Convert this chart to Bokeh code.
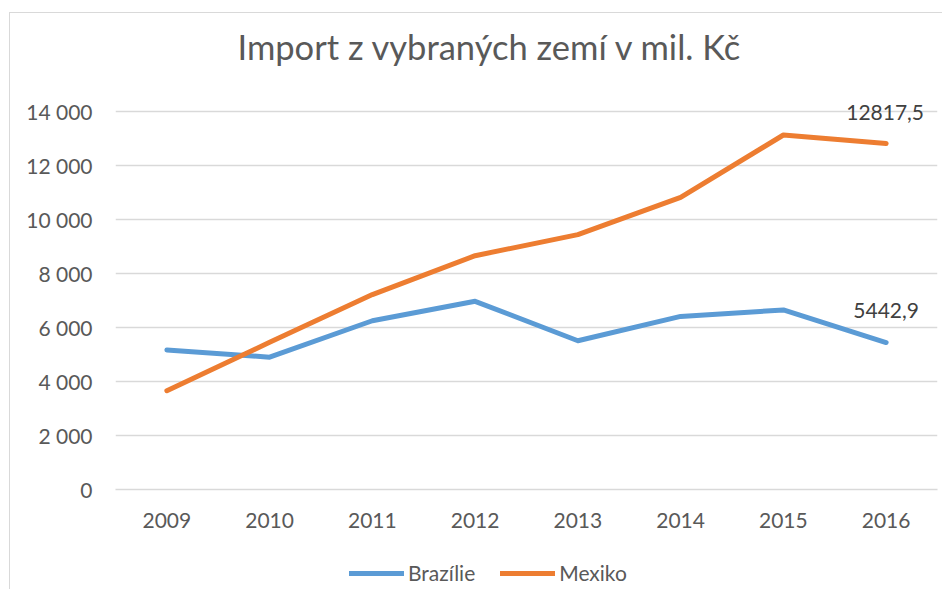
from bokeh.plotting import figure
from bokeh.layouts import column
from bokeh.models import FactorRange, Range1d, CustomJSTickFormatter, Legend, LegendItem, ColumnDataSource
from bokeh.core.properties import value
from bokeh.embed import file_html
from bokeh.resources import INLINE

years = ["2009", "2010", "2011", "2012", "2013", "2014", "2015", "2016"]
brazilie = [5170, 4900, 6250, 6970, 5510, 6410, 6650, 5442.9]
mexiko = [3660, 5450, 7220, 8660, 9440, 10820, 13130, 12817.5]
series_names = ["Brazílie", "Mexiko"]
series_colors = ["#5B9BD5", "#ED7D31"]
title_text = "Import z vybraných zemí v mil. Kč"
end_labels = ["5442,9", "12817,5"]
y_ticks = [0, 2000, 4000, 6000, 8000, 10000, 12000, 14000]

FONT = "Lato"
GRAY = "#595959"
W = 942

p = figure(width=W, height=545, x_range=FactorRange(*years), y_range=Range1d(0, 15000),
           output_backend="svg", toolbar_location=None,
           min_border_left=115, min_border_right=5, min_border_top=84, min_border_bottom=56)
p.border_fill_alpha = 0
p.background_fill_alpha = 0

p.title.text = title_text
p.title.align = "left"
p.title.offset = 122
p.title.text_font = FONT
p.title.text_font_size = "34.5px"
p.title.text_font_style = "normal"
p.title.text_color = GRAY
p.title.standoff = 36

p.outline_line_color = None
p.xgrid.grid_line_color = None
p.ygrid.grid_line_color = "#D9D9D9"
p.ygrid.grid_line_width = 1.5
p.yaxis.ticker = y_ticks
p.yaxis.formatter = CustomJSTickFormatter(code="""
    if (tick >= 1000) { return Math.floor(tick/1000) + ' ' + String(tick % 1000).padStart(3, '0'); }
    return String(tick);
""")
for ax in (p.xaxis, p.yaxis):
    ax.major_tick_line_color = None
    ax.minor_tick_line_color = None
    ax.major_label_text_font = FONT
    ax.major_label_text_font_size = "21px"
    ax.major_label_text_color = GRAY
p.yaxis.axis_line_color = None
p.xaxis.axis_line_color = "#D9D9D9"
p.xaxis.axis_line_width = 1.5
p.yaxis.major_label_standoff = 17
p.xaxis.major_label_standoff = 17

p.line(years, brazilie, line_color=series_colors[0], line_width=5, line_join="round", line_cap="round")
p.line(years, mexiko, line_color=series_colors[1], line_width=5, line_join="round", line_cap="round")

src = ColumnDataSource(dict(x=[years[-1], years[-1]], y=[brazilie[-1], mexiko[-1]], t=end_labels,
                            dx=[0, -1], dy=[-32, -31]))
p.text(x="x", y="y", text="t", source=src, text_align="center", text_baseline="middle",
       x_offset="dx", y_offset="dy", text_font=value(FONT), text_font_size="21px", text_color="#404040")

# legend strip below the chart
p2 = figure(width=W, height=44, x_range=Range1d(0, 1), y_range=Range1d(0, 1),
            output_backend="svg", toolbar_location=None,
            min_border_left=115, min_border_right=5, min_border_top=0, min_border_bottom=0,
            x_axis_type=None, y_axis_type=None)
p2.border_fill_alpha = 0
p2.background_fill_alpha = 0
p2.outline_line_color = None
p2.grid.grid_line_color = None
items = []
for name, col in zip(series_names, series_colors):
    # legend sample only; placed outside the visible range of this strip
    r = p2.line(x=[5, 6], y=[5, 5], line_color=col, line_width=5, line_cap="round")
    items.append(LegendItem(label=name, renderers=[r]))
legend = Legend(items=items, orientation="horizontal", location=(234, 4), glyph_width=55, glyph_height=24,
                label_standoff=4, spacing=25, border_line_color=None, background_fill_alpha=0,
                label_text_font=FONT, label_text_font_size="21px", label_text_color=GRAY,
                margin=0, padding=0)
p2.add_layout(legend, "center")

layout = column(p, p2, spacing=0)
layout.styles = {"box-shadow": "inset 9px 12px 0 0 #ffffff, inset 10px 13px 0 0 #D9D9D9",
                 "background-color": "#ffffff"}
open("out.html", "w").write(file_html(layout, INLINE))
